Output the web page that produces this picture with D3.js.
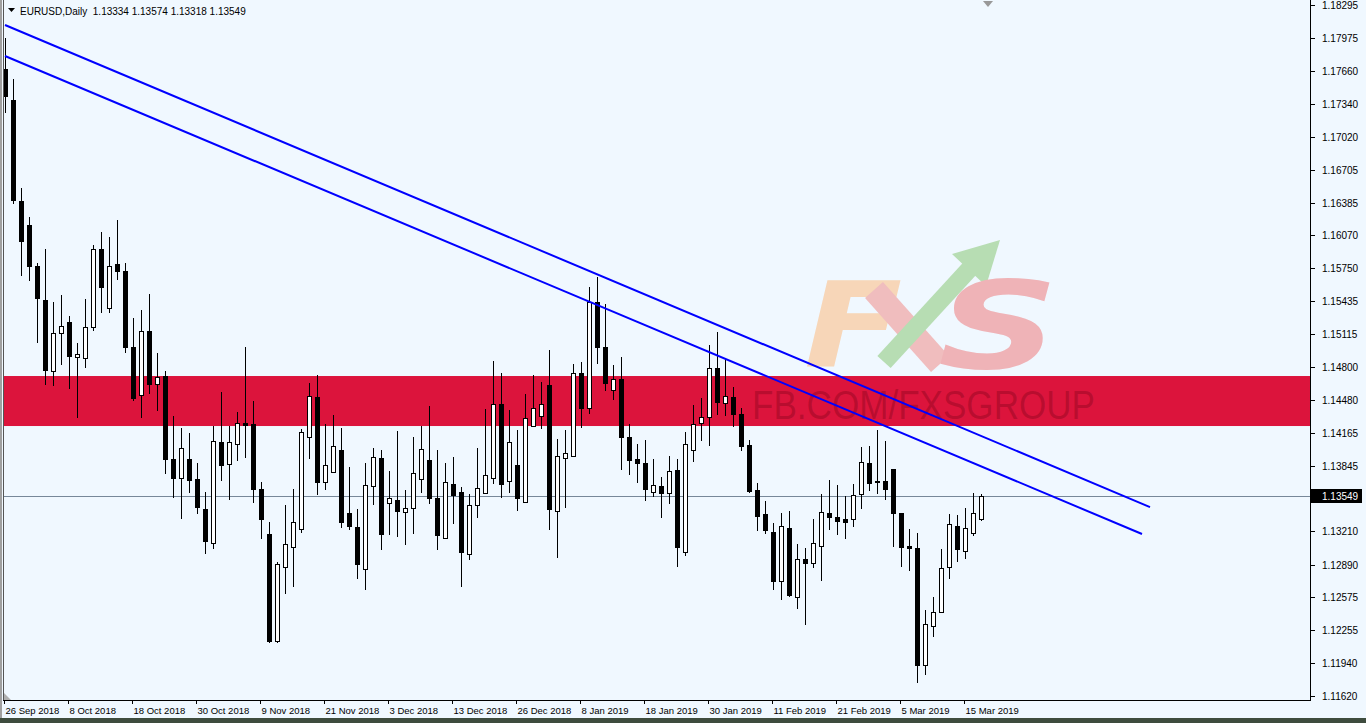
<!DOCTYPE html>
<html><head><meta charset="utf-8">
<script src="https://cdn.jsdelivr.net/npm/d3@7"></script>
<style>html,body{margin:0;padding:0;background:#F0F8FF;overflow:hidden}</style>
</head><body><svg id="c" width="1366" height="723"></svg>
<script>
const symbolTitle = "EURUSD,Daily";
const dates = [
"2018-09-26","2018-09-27","2018-09-28",
"2018-10-01","2018-10-02","2018-10-03","2018-10-04","2018-10-05","2018-10-08","2018-10-09","2018-10-10","2018-10-11","2018-10-12","2018-10-15","2018-10-16","2018-10-17","2018-10-18","2018-10-19","2018-10-22","2018-10-23","2018-10-24","2018-10-25","2018-10-26","2018-10-29","2018-10-30","2018-10-31",
"2018-11-01","2018-11-02","2018-11-05","2018-11-06","2018-11-07","2018-11-08","2018-11-09","2018-11-12","2018-11-13","2018-11-14","2018-11-15","2018-11-16","2018-11-19","2018-11-20","2018-11-21","2018-11-22","2018-11-23","2018-11-26","2018-11-27","2018-11-28","2018-11-29","2018-11-30",
"2018-12-03","2018-12-04","2018-12-05","2018-12-06","2018-12-07","2018-12-10","2018-12-11","2018-12-12","2018-12-13","2018-12-14","2018-12-17","2018-12-18","2018-12-19","2018-12-20","2018-12-21","2018-12-24","2018-12-26","2018-12-27","2018-12-28","2018-12-31",
"2019-01-02","2019-01-03","2019-01-04","2019-01-07","2019-01-08","2019-01-09","2019-01-10","2019-01-11","2019-01-14","2019-01-15","2019-01-16","2019-01-17","2019-01-18","2019-01-21","2019-01-22","2019-01-23","2019-01-24","2019-01-25","2019-01-28","2019-01-29","2019-01-30","2019-01-31",
"2019-02-01","2019-02-04","2019-02-05","2019-02-06","2019-02-07","2019-02-08","2019-02-11","2019-02-12","2019-02-13","2019-02-14","2019-02-15","2019-02-18","2019-02-19","2019-02-20","2019-02-21","2019-02-22","2019-02-25","2019-02-26","2019-02-27","2019-02-28",
"2019-03-01","2019-03-04","2019-03-05","2019-03-06","2019-03-07","2019-03-08","2019-03-11","2019-03-12","2019-03-13","2019-03-14","2019-03-15","2019-03-18","2019-03-19"];
const open = [1.17676,1.17377,1.16401,1.16170,1.15773,1.15445,1.14759,1.15126,1.15232,1.14894,
1.14885,1.15184,1.15938,1.15368,1.15793,1.15725,1.14991,1.14527,1.15146,1.14634,
1.14711,1.13909,1.13726,1.13909,1.13716,1.13426,1.13098,1.14073,1.13861,1.14054,
1.14257,1.14247,1.13619,1.13185,1.12151,1.12866,1.13059,1.13233,1.14122,1.14508,
1.13687,1.13784,1.13996,1.13387,1.13252,1.12847,1.13648,1.13919,1.13484,1.13513,
1.13397,1.13436,1.13716,1.13899,1.13532,1.13146,1.13668,1.13590,1.12991,1.13465,
1.13581,1.13726,1.14440,1.13697,1.13851,1.13494,1.14228,1.14324,1.14624,1.13407,
1.13919,1.13938,1.14740,1.14402,1.15426,1.14991,1.14576,1.14682,1.14122,1.13909,
1.13870,1.13590,1.13648,1.13581,1.13803,1.13011,1.13996,1.14257,1.14315,1.14788,
1.14450,1.14508,1.14344,1.14044,1.13610,1.13378,1.13204,1.12731,1.13243,1.12576,
1.12943,1.12904,1.13069,1.13387,1.13349,1.13330,1.13330,1.13571,1.13870,1.13697,
1.13697,1.13813,1.13387,1.13069,1.13049,1.11919,1.12296,1.12431,1.12866,1.13262,
1.13020,1.13194,1.13334];
const high = [1.17976,1.17580,1.16527,1.16247,1.15802,1.15938,1.15426,1.15493,1.15290,1.15030,
1.15455,1.15976,1.16102,1.16054,1.16218,1.15802,1.15271,1.15348,1.15503,1.14933,
1.14759,1.14324,1.14209,1.14160,1.13870,1.13590,1.14228,1.14556,1.14228,1.14363,
1.14991,1.14469,1.13687,1.13300,1.12914,1.13465,1.13619,1.14199,1.14643,1.14721,
1.14247,1.14334,1.14209,1.13832,1.13426,1.13870,1.14015,1.13996,1.13793,1.14180,
1.13610,1.14122,1.14228,1.14421,1.13996,1.13870,1.13928,1.13639,1.13571,1.14015,
1.14392,1.14856,1.14740,1.14382,1.14189,1.14537,1.14721,1.14653,1.14962,1.14102,
1.14189,1.14827,1.14846,1.15571,1.15667,1.15406,1.14817,1.14894,1.14247,1.14054,
1.14093,1.13909,1.13735,1.13938,1.13909,1.14170,1.14431,1.14498,1.15010,1.15136,
1.14875,1.14605,1.14402,1.14093,1.13677,1.13503,1.13291,1.13387,1.13407,1.13088,
1.13049,1.13330,1.13571,1.13706,1.13658,1.13552,1.13668,1.14025,1.14035,1.14189,
1.14083,1.13813,1.13387,1.13233,1.13194,1.12450,1.12576,1.13040,1.13378,1.13368,
1.13436,1.13581,1.13574];
const low = [1.17261,1.16382,1.15687,1.15638,1.15039,1.14634,1.14624,1.14827,1.14595,1.14315,
1.14798,1.15155,1.15329,1.15329,1.15648,1.14943,1.14479,1.14315,1.14547,1.14382,
1.13774,1.13542,1.13339,1.13590,1.13387,1.13001,1.13049,1.13706,1.13523,1.13899,
1.13928,1.13494,1.13146,1.12141,1.12141,1.12615,1.12682,1.13204,1.13919,1.13571,
1.13619,1.13784,1.13252,1.13233,1.12760,1.12653,1.13474,1.13040,1.13185,1.13165,
1.13088,1.13194,1.13590,1.13484,1.13040,1.13146,1.13291,1.12682,1.12943,1.13349,
1.13581,1.13677,1.13542,1.13590,1.13416,1.13494,1.14228,1.14209,1.13233,1.12962,
1.13445,1.13938,1.14218,1.14353,1.14836,1.14576,1.14489,1.13813,1.13764,1.13687,
1.13513,1.13552,1.13349,1.13484,1.12875,1.12982,1.13890,1.14093,1.14044,1.14344,
1.14334,1.14228,1.13996,1.13590,1.13223,1.13194,1.12653,1.12557,1.12586,1.12470,
1.12315,1.12866,1.12740,1.13233,1.13185,1.13146,1.13262,1.13436,1.13610,1.13581,
1.13523,1.13069,1.12875,1.12837,1.11755,1.11832,1.12199,1.12431,1.12760,1.12924,
1.12953,1.13175,1.13318];
const close = [1.17416,1.16411,1.16015,1.15773,1.15464,1.14769,1.15126,1.15194,1.14904,1.14923,
1.15184,1.15938,1.15571,1.15773,1.15725,1.14991,1.14498,1.15146,1.14634,1.14701,
1.13909,1.13726,1.14015,1.13706,1.13445,1.13117,1.14083,1.13851,1.14073,1.14257,
1.14238,1.13619,1.13330,1.12151,1.12895,1.13088,1.13300,1.14170,1.14518,1.13687,
1.13851,1.14035,1.13300,1.13262,1.12895,1.13658,1.13928,1.13185,1.13532,1.13407,
1.13436,1.13774,1.14006,1.13532,1.13175,1.13687,1.13561,1.13011,1.13465,1.13629,
1.13755,1.14440,1.13668,1.14073,1.13532,1.14305,1.14402,1.14440,1.13426,1.13938,
1.13967,1.14740,1.14402,1.15426,1.14991,1.14643,1.14682,1.14122,1.13899,1.13870,
1.13619,1.13658,1.13581,1.13793,1.13059,1.14054,1.14247,1.14315,1.14788,1.14460,
1.14518,1.14344,1.14035,1.13600,1.13358,1.13223,1.12731,1.13262,1.12595,1.12943,
1.12904,1.13098,1.13397,1.13349,1.13310,1.13300,1.13561,1.13880,1.13677,1.13687,
1.13619,1.13387,1.13059,1.13049,1.11919,1.12315,1.12431,1.12856,1.13281,1.13040,
1.13243,1.13387,1.13549];
const priceTicks = [1.18295,1.17975,1.17660,1.17340,1.17020,1.16705,1.16385,1.16070,1.15750,1.15435,1.15115,1.14800,1.14480,1.14165,1.13845,1.13525,1.13210,1.12890,1.12575,1.12255,1.11940,1.11620];
const dateTicks = ["2018-09-26","2018-10-08","2018-10-18","2018-10-30","2018-11-09","2018-11-21","2018-12-03","2018-12-13","2018-12-26","2019-01-08","2019-01-18","2019-01-30","2019-02-11","2019-02-21","2019-03-05","2019-03-15"];
const dateTickLabels = ["26 Sep 2018","8 Oct 2018","18 Oct 2018","30 Oct 2018","9 Nov 2018","21 Nov 2018","3 Dec 2018","13 Dec 2018","26 Dec 2018","8 Jan 2019","18 Jan 2019","30 Jan 2019","11 Feb 2019","21 Feb 2019","5 Mar 2019","15 Mar 2019"];
const zone = [1.14228, 1.14711];
const trendUpper = [[0, 1.18102], [143.125, 1.13445]];
const trendLower = [[0, 1.17802], [142.125, 1.13185]];
const watermarkText = "FB.COM/FXSGROUP";

const W = 1366, H = 723;
const plotL = 4, plotR = 1310, plotT = 0, plotB = 700;
const svg = d3.select("#c");
const font = "'Liberation Sans', Arial, sans-serif";

const x = d3.scaleLinear().domain([0, 1]).range([5, 13]);
const y = d3.scaleLinear().domain([1.11620, 1.18295]).range([696, 5]);

svg.append("rect").attr("x",0).attr("y",0).attr("width",W).attr("height",H).attr("fill","#F0F8FF");

const defs = svg.append("defs");
defs.append("clipPath").attr("id","clip").append("rect")
  .attr("x",plotL).attr("y",plotT).attr("width",plotR-plotL).attr("height",plotB-plotT);

const plot = svg.append("g").attr("clip-path","url(#clip)");

// support/resistance zone
plot.append("rect")
  .attr("x", plotL).attr("width", plotR - plotL)
  .attr("y", y(zone[1])).attr("height", y(zone[0]) - y(zone[1]))
  .attr("fill", "#DC143C");

// watermark
const wm = plot.append("g");
wm.append("text").attr("x", 0).attr("y", 0).text("F")
  .attr("transform","translate(804,366) scale(1.22,1)")
  .attr("font-family","'DejaVu Sans', sans-serif").attr("font-weight","bold").attr("font-style","italic")
  .attr("font-size",118).attr("fill","#F7D6B8");
wm.append("line").attr("x1",874).attr("y1",290).attr("x2",940).attr("y2",364)
  .attr("stroke","#F0BDBE").attr("stroke-width",24);
wm.append("line").attr("x1",884).attr("y1",362).attr("x2",974).attr("y2",264)
  .attr("stroke","#B7DDB3").attr("stroke-width",18);
wm.append("path").attr("d","M1000,240 L952,254 L986,286 Z").attr("fill","#B7DDB3");
wm.append("text").attr("x", 0).attr("y", 0).text("S")
  .attr("transform","translate(938,368) scale(1.42,1.02)")
  .attr("font-family","'DejaVu Sans', sans-serif").attr("font-weight","bold").attr("font-style","italic")
  .attr("font-size",118).attr("fill","#EFB3B7");
wm.append("text").attr("x", 752).attr("y", 419).text(watermarkText)
  .attr("font-family", font).attr("font-size", 40)
  .attr("textLength", 343).attr("lengthAdjust","spacingAndGlyphs")
  .attr("fill", "rgba(110,0,20,0.33)");

// current price line
const last = close[close.length-1];
const yl = Math.round(y(last)) + 0.5;
plot.append("line").attr("x1",plotL).attr("x2",plotR).attr("y1",yl).attr("y2",yl)
  .attr("stroke","#778899").attr("stroke-width",1);

// candles
const bars = d3.range(dates.length).map(i => ({i, o:open[i], h:high[i], l:low[i], c:close[i]}));
const cg = plot.append("g");
bars.forEach(d => {
  const cx = Math.round(x(d.i));
  const yh = Math.round(y(d.h)), ylw = Math.round(y(d.l));
  const yo = Math.round(y(d.o)), yc = Math.round(y(d.c));
  cg.append("line").attr("x1",cx+0.5).attr("x2",cx+0.5).attr("y1",yh).attr("y2",ylw+1)
    .attr("stroke","#000").attr("stroke-width",1);
  const top = Math.min(yo,yc), bot = Math.max(yo,yc);
  if (d.c >= d.o) {
    cg.append("rect").attr("x",cx-1.5).attr("y",top+0.5).attr("width",4).attr("height",Math.max(1,bot-top))
      .attr("fill","#fff").attr("stroke","#000").attr("stroke-width",1);
  } else {
    cg.append("rect").attr("x",cx-2).attr("y",top).attr("width",5).attr("height",Math.max(1,bot-top+1))
      .attr("fill","#000");
  }
});

// trendlines
const lineGen = d3.line().x(d => x(d[0])).y(d => y(d[1]));
[trendUpper, trendLower].forEach(t => {
  plot.append("path").attr("d", lineGen(t)).attr("fill","none")
    .attr("stroke","#0000FF").attr("stroke-width",2);
});

// frame
svg.append("rect").attr("x",0).attr("y",0).attr("width",2).attr("height",718).attr("fill","#A0A0A0");
svg.append("line").attr("x1",3.5).attr("x2",3.5).attr("y1",0).attr("y2",plotB+1).attr("stroke","#555").attr("stroke-width",1);
svg.append("line").attr("x1",plotR+0.5).attr("x2",plotR+0.5).attr("y1",0).attr("y2",plotB+1).attr("stroke","#000");
svg.append("line").attr("x1",3).attr("x2",plotR+1).attr("y1",plotB+0.5).attr("y2",plotB+0.5).attr("stroke","#000");
svg.append("path").attr("d",`M4,${plotB} L4,${plotB-7} L11,${plotB} Z`).attr("fill","#B0B0B0");

// right price axis
const ra = svg.append("g");
priceTicks.forEach(p => {
  const yy = Math.round(y(p)) + 0.5;
  ra.append("line").attr("x1",plotR).attr("x2",plotR+5).attr("y1",yy).attr("y2",yy).attr("stroke","#000");
  if (Math.abs(yy - yl) > 12) {
    ra.append("text").attr("x",plotR+12).attr("y",yy+3.5).text(d3.format(".5f")(p))
      .attr("font-family",font).attr("font-size",10).attr("fill","#000");
  }
});
// current price label
ra.append("rect").attr("x",plotR+1).attr("y",yl-7.5).attr("width",51).attr("height",14).attr("fill","#000");
ra.append("text").attr("x",plotR+12).attr("y",yl+3.5).text(d3.format(".5f")(last))
  .attr("font-family",font).attr("font-size",10).attr("fill","#fff");

// bottom date axis
const ba = svg.append("g");
dateTicks.forEach((dt, k) => {
  const idx = dates.indexOf(dt);
  const xx = Math.round(x(idx)) - 0.5;
  ba.append("line").attr("x1",xx).attr("x2",xx).attr("y1",plotB).attr("y2",plotB+4).attr("stroke","#000");
  ba.append("text").attr("x",xx+1).attr("y",plotB+14).text(dateTickLabels[k])
    .attr("font-family",font).attr("font-size",9.5).attr("fill","#000");
});

// bottom status strip
svg.append("rect").attr("x",0).attr("y",718).attr("width",W).attr("height",5).attr("fill","#3E4C3E");

// header
svg.append("path").attr("d","M8,8 L15,8 L11.5,12 Z").attr("fill","#000");
svg.append("text").attr("x",20).attr("y",14.5)
  .text(`${symbolTitle}  ${d3.format(".5f")(open[122])} ${d3.format(".5f")(high[122])} ${d3.format(".5f")(low[122])} ${d3.format(".5f")(last)}`)
  .attr("font-family",font).attr("font-size",10).attr("fill","#000").style("white-space","pre");

// chart shift marker
svg.append("path").attr("d","M983,1 L993,1 L988,7 Z").attr("fill","#999");
</script>
</body></html>
